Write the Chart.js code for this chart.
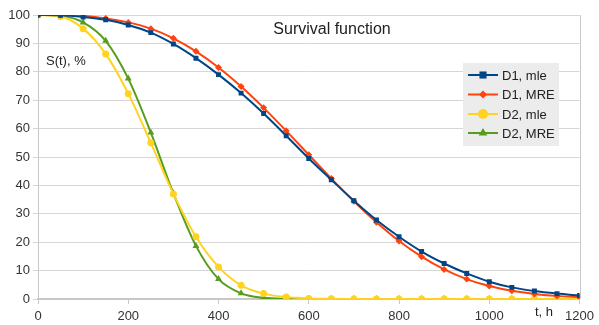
<!DOCTYPE html>
<html>
<head>
<meta charset="utf-8">
<script src="https://cdn.jsdelivr.net/npm/chart.js@4.4.1/dist/chart.umd.min.js"></script>
<style>
  html, body { margin: 0; padding: 0; background: #fff; }
  #wrap { position: relative; width: 599px; height: 325px; }
</style>
</head>
<body>
<div id="wrap"><canvas id="myChart" width="599" height="325"></canvas></div>
<script>
// time points, h
const hours = [0, 50, 100, 150, 200, 250, 300, 350, 400, 450, 500, 550, 600,
  650, 700, 750, 800, 850, 900, 950, 1000, 1050, 1100, 1150, 1200];

const d1Mle = [100, 99.9, 99.3, 98.3, 96.5, 93.8, 89.8, 84.8, 79.0, 72.5, 65.3, 57.5, 49.5,
  42.0, 34.6, 27.8, 21.9, 16.7, 12.5, 9.0, 6.1, 4.1, 2.8, 1.9, 1.2];
const d1Mre = [100, 100, 99.7, 98.8, 97.4, 95.2, 91.8, 87.2, 81.5, 74.8, 67.3, 59.2, 50.8,
  42.4, 34.4, 27.0, 20.4, 14.9, 10.4, 7.0, 4.6, 2.9, 1.8, 1.1, 0.6];
const d2Mle = [100, 99.5, 95.2, 86.3, 72.3, 55.0, 37.0, 21.9, 11.3, 4.8, 1.9, 0.7, 0.2,
  0.05, 0, 0, 0, 0, 0, 0, 0, 0, 0, 0, 0];
const d2Mre = [100, 99.7, 97.4, 90.9, 77.6, 58.6, 37.2, 18.7, 7.0, 2.0, 0.4, 0.05, 0,
  0, 0, 0, 0, 0, 0, 0, 0, 0, 0, 0, 0];

const seriesNames = ["D1, mle", "D1, MRE", "D2, mle", "D2, MRE"];
const seriesColors = ["#004586", "#ff420e", "#ffd320", "#579d1c"];
const seriesMarkers = ["rect", "rectRot", "circle", "triangle"];
const seriesValues = [d1Mle, d1Mre, d2Mle, d2Mre];

const FONT = "'Liberation Sans', Arial, sans-serif";

function toPoints(values) {
  return values.map((v, i) => ({ x: hours[i], y: v }));
}

const datasets = seriesValues.map((vals, i) => ({
  label: seriesNames[i],
  data: toPoints(vals),
  borderColor: seriesColors[i],
  backgroundColor: seriesColors[i],
  borderWidth: 2,
  pointStyle: seriesMarkers[i],
  pointRadius: seriesMarkers[i] === "triangle" ? 4 : 3.5,
  pointBorderWidth: 0,
  cubicInterpolationMode: "monotone"
}));

// extra texts + legend box drawn on the canvas
const decorations = {
  id: "decorations",
  afterDraw(chart) {
    const ctx = chart.ctx;
    const area = chart.chartArea;
    ctx.save();

    // right border
    ctx.strokeStyle = "#c8c8c8";
    ctx.lineWidth = 1;
    ctx.beginPath();
    ctx.moveTo(Math.round(area.right) + 0.5, area.top);
    ctx.lineTo(Math.round(area.right) + 0.5, area.bottom);
    ctx.stroke();

    ctx.fillStyle = "#222";
    ctx.textBaseline = "middle";
    ctx.font = "16px " + FONT;
    ctx.textAlign = "center";
    ctx.fillText("Survival function", 332, 30);

    ctx.font = "13px " + FONT;
    ctx.textAlign = "left";
    ctx.fillText("S(t), %", 46, 61);
    ctx.fillText("t, h", 535, 312);

    // legend
    const lx = 463, ly = 63, lw = 96, lh = 83;
    ctx.fillStyle = "#ececec";
    ctx.fillRect(lx, ly, lw, lh);
    const rows = [75, 94.5, 114, 133];
    seriesNames.forEach((name, i) => {
      const y = rows[i];
      ctx.strokeStyle = seriesColors[i];
      ctx.lineWidth = 2;
      ctx.beginPath();
      ctx.moveTo(468, y);
      ctx.lineTo(498, y);
      ctx.stroke();
      ctx.fillStyle = seriesColors[i];
      Chart.helpers.drawPoint(ctx, {
        pointStyle: seriesMarkers[i],
        radius: seriesMarkers[i] === "rectRot" ? 4 : 5,
        rotation: 0,
        borderWidth: 0
      }, 483, y);
      ctx.fillStyle = "#222";
      ctx.font = "13px " + FONT;
      ctx.textAlign = "left";
      ctx.fillText(name, 502, y + 1);
    });
    ctx.restore();
  }
};

new Chart("myChart", {
  type: "line",
  data: { datasets: datasets },
  plugins: [decorations],
  options: {
    responsive: false,
    animation: false,
    layout: { padding: { top: 15, right: 14, left: 0, bottom: 0 } },
    plugins: {
      legend: { display: false },
      title: { display: false },
      tooltip: { enabled: false }
    },
    scales: {
      x: {
        type: "linear",
        min: 0,
        max: 1200,
        ticks: {
          stepSize: 200, color: "#333", font: { family: FONT, size: 13 }, padding: 5, maxRotation: 0,
          callback: v => String(v)
        },
        grid: { drawOnChartArea: false, drawTicks: true, tickLength: 5, color: "#c8c8c8" },
        border: { color: "#c8c8c8", width: 2 },
        afterFit(scale) { scale.height = 26; }
      },
      y: {
        min: 0,
        max: 100,
        ticks: { stepSize: 10, color: "#333", font: { family: FONT, size: 13 }, padding: 3 },
        grid: { color: "#d6d6d6", tickLength: 5 },
        border: { color: "#c8c8c8" },
        afterFit(scale) { scale.width = 38; }
      }
    }
  }
});
</script>
</body>
</html>
